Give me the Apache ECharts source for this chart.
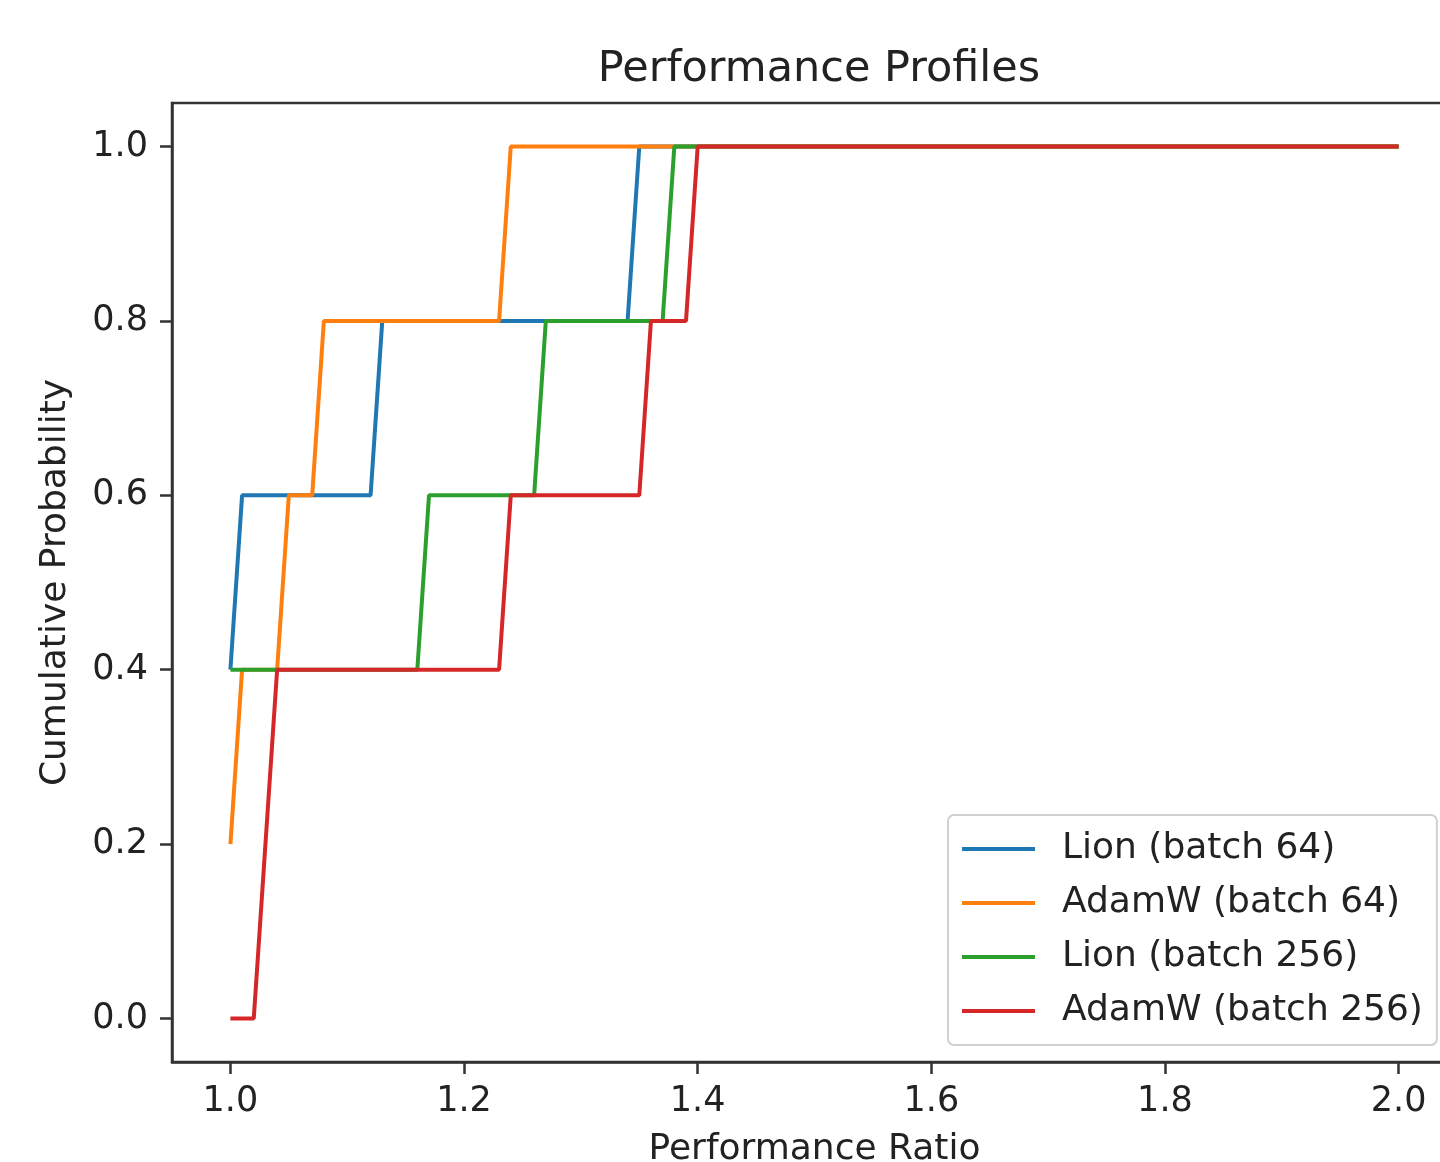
<!DOCTYPE html>
<html>
<head>
<meta charset="utf-8">
<title>Performance Profiles</title>
<script src="https://cdn.jsdelivr.net/npm/echarts@6/dist/echarts.min.js"></script>
<style>
  html, body { margin: 0; padding: 0; background: #fff; overflow: hidden; }
  #chart { width: 1480px; height: 1162px; }
</style>
</head>
<body>
<div id="chart"></div>
<script>
'use strict';

// performance ratio (tau) and cumulative probability for each run
var lion64X = [1.00, 1.01, 1.12, 1.13, 1.34, 1.35, 2.00];
var lion64Y = [0.4, 0.6, 0.6, 0.8, 0.8, 1.0, 1.0];

var adam64X = [1.00, 1.01, 1.04, 1.05, 1.07, 1.08, 1.23, 1.24, 2.00];
var adam64Y = [0.2, 0.4, 0.4, 0.6, 0.6, 0.8, 0.8, 1.0, 1.0];

var lion256X = [1.00, 1.16, 1.17, 1.26, 1.27, 1.37, 1.38, 2.00];
var lion256Y = [0.4, 0.4, 0.6, 0.6, 0.8, 0.8, 1.0, 1.0];

var adam256X = [1.00, 1.02, 1.04, 1.23, 1.24, 1.35, 1.36, 1.39, 1.40, 2.00];
var adam256Y = [0.0, 0.0, 0.4, 0.4, 0.6, 0.6, 0.8, 0.8, 1.0, 1.0];

var seriesNames = ['Lion (batch 64)', 'AdamW (batch 64)', 'Lion (batch 256)', 'AdamW (batch 256)'];
var seriesColors = ['#1f77b4', '#ff7f0e', '#2ca02c', '#d62728'];

var xTicks = [1.0, 1.2, 1.4, 1.6, 1.8, 2.0];
var yTicks = [0.0, 0.2, 0.4, 0.6, 0.8, 1.0];

var FONT = 'DejaVu Sans';

function zip(xs, ys) {
    var out = [];
    for (var i = 0; i < xs.length; i++) {
        out.push([xs[i], ys[i]]);
    }
    return out;
}

var allData = [zip(lion64X, lion64Y), zip(adam64X, adam64Y), zip(lion256X, lion256Y), zip(adam256X, adam256Y)];

var series = [];
for (var i = 0; i < seriesNames.length; i++) {
    series.push({
        name: seriesNames[i],
        type: 'line',
        data: allData[i],
        symbol: 'none',
        showSymbol: false,
        animation: false,
        lineStyle: { color: seriesColors[i], width: 4 },
        itemStyle: { color: seriesColors[i] }
    });
}

var mychart = echarts.init(document.getElementById('chart'));
var option = {
    backgroundColor: '#fff',
    animation: false,
    title: {
        text: 'Performance Profiles',
        left: 814,
        top: 43,
        textAlign: 'center',
        textStyle: { fontFamily: FONT, fontSize: 43, fontWeight: 'normal', color: '#222' }
    },
    grid: {
        left: 172,
        top: 103,
        right: 23,
        bottom: 100,
        outerBoundsMode: 'none',
        containLabel: false,
        show: true,
        borderColor: '#333',
        borderWidth: 2.5,
        backgroundColor: '#fff'
    },
    legend: {
        orient: 'vertical',
        left: 948,
        top: 815,
        padding: [16, 14, 16, 14],
        itemWidth: 73,
        itemHeight: 4,
        itemGap: 18,
        icon: 'rect',
        borderColor: '#d0d0d0',
        borderWidth: 2,
        borderRadius: 6,
        backgroundColor: 'rgba(255,255,255,0.8)',
        textStyle: { fontFamily: FONT, fontSize: 36, color: '#222', lineHeight: 36, padding: [0, 0, 0, 22] },
        data: seriesNames
    },
    xAxis: {
        type: 'value',
        min: 0.95,
        max: 2.05,
        name: 'Performance Ratio',
        nameLocation: 'middle',
        nameGap: 70,
        nameTextStyle: { fontFamily: FONT, fontSize: 36, color: '#222' },
        splitLine: { show: false },
        axisLine: { show: true, onZero: false, lineStyle: { color: '#333', width: 2.5 } },
        axisTick: { show: true, length: 12, lineStyle: { color: '#333', width: 2.5 }, customValues: xTicks },
        axisLabel: {
            fontFamily: FONT, fontSize: 35, color: '#222', margin: 22,
            customValues: xTicks,
            formatter: function (v) { return v.toFixed(1); }
        }
    },
    yAxis: {
        type: 'value',
        min: -0.05,
        max: 1.05,
        name: 'Cumulative Probability',
        nameLocation: 'middle',
        nameGap: 98,
        nameTextStyle: { fontFamily: FONT, fontSize: 36, color: '#222' },
        splitLine: { show: false },
        axisLine: { show: true, onZero: false, lineStyle: { color: '#333', width: 2.5 } },
        axisTick: { show: true, length: 12, lineStyle: { color: '#333', width: 2.5 }, customValues: yTicks },
        axisLabel: {
            fontFamily: FONT, fontSize: 35, color: '#222', margin: 24,
            customValues: yTicks,
            formatter: function (v) { return v.toFixed(1); }
        }
    },
    series: series
};
mychart.setOption(option);
</script>
</body>
</html>
